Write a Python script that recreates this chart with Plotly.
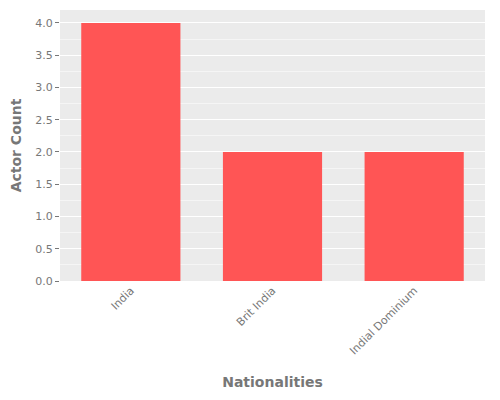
import plotly.graph_objects as go

nationalities = ["India", "Brit India", "Indial Dominium"]
actor_counts = [4, 2, 2]

fig = go.Figure(
    go.Bar(
        x=nationalities,
        y=actor_counts,
        marker_color="#FF5555",
        marker_line_width=0,
    )
)
fig.update_layout(
    width=500,
    height=400,
    paper_bgcolor="white",
    plot_bgcolor="#EBEBEB",
    font=dict(family="DejaVu Sans", color="#777777", size=11),
    margin=dict(l=52, r=23, t=2, b=127, autoexpand=False),
    bargap=0.3,
    showlegend=False,
    xaxis=dict(
        title=dict(text="<b>Nationalities</b>", font=dict(size=14, color="#777777"), standoff=20),
        tickangle=-45,
        showgrid=False,
        ticks="",
        range=[-0.5, 2.5],
    ),
    yaxis=dict(
        title=dict(text="<b>Actor Count</b>", font=dict(size=14, color="#777777")),
        range=[0, 4.2],
        dtick=0.5,
        tickformat=".1f",
        gridcolor="white",
        gridwidth=1,
        zeroline=False,
        ticks="outside",
        ticklen=4,
        tickcolor="#777777",
        minor=dict(dtick=0.25, showgrid=True, gridcolor="#F5F5F5", gridwidth=0.5),
    ),
)
fig.write_html("out.html")
